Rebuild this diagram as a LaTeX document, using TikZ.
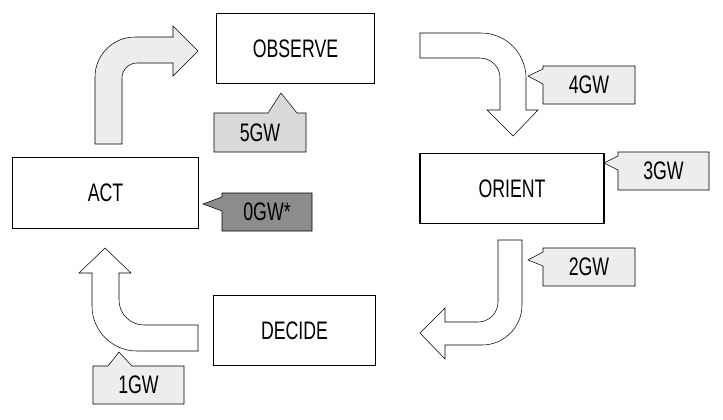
\documentclass[tikz,border=0pt]{standalone}
\usepackage{fontspec}
\setmainfont{Liberation Sans}[FakeStretch=0.7]

\begin{document}
\begin{tikzpicture}[x = 0.75pt, y = -0.75pt,
	big/.style = {font = \fontsize{19}{20}\selectfont},
	stage/.style = {draw, thick, big, minimum width = 119pt, minimum height = 53pt},
	turn arrow/.style = {draw, line join = miter}]

	\useasboundingbox (0, 0) rectangle (723, 419);

	% The four stages

	\node [stage] (observe) at (295.5, 48.5) {OBSERVE};
	\node [stage, minimum width = 138pt] (orient) at (512, 188.5) {ORIENT};
	\node [stage, minimum width = 121pt] (decide) at (294.5, 330.5) {DECIDE};
	\node [stage, minimum width = 140pt] (act) at (105.5, 193) {ACT};

	% Bent arrows

	\draw [turn arrow, fill = black!7] (95, 144) -- (95, 77) arc (180 : 270 : 40) -- (173, 37)
		-- (173, 26) -- (198, 51) -- (173, 76) -- (173, 63) -- (137, 63)
		arc (270 : 180 : 15) -- (122, 144) -- cycle;

	\draw [turn arrow, fill = white] (420, 33) -- (481, 33) arc (270 : 360 : 45) -- (526, 110)
		-- (538, 110) -- (513, 136) -- (487, 110) -- (500, 110) -- (500, 78)
		arc (0 : -90 : 20) -- (420, 58) -- cycle;

	\draw [turn arrow, fill = white] (498, 240) -- (498, 302) arc (0 : 90 : 20) -- (445, 322)
		-- (445, 308) -- (420, 333) -- (445, 359) -- (445, 345) -- (482, 345)
		arc (90 : 0 : 40) -- (522, 240) -- cycle;

	\draw [turn arrow, fill = white] (198, 325) -- (144, 325) arc (90 : 180 : 25) -- (119, 273)
		-- (131, 273) -- (105, 248) -- (79, 273) -- (92, 273) -- (92, 306)
		arc (180 : 90 : 45) -- (198, 351) -- cycle;

	% Callouts

	\draw [fill = black!15] (214, 113) -- (268, 113) -- (281, 93) -- (297, 113) -- (306, 113)
		-- (306, 152) -- (214, 152) -- cycle;
	\node [big] (g5) at (260, 133) {5GW};

	\draw [fill = black!7] (543, 66) -- (635, 66) -- (635, 104) -- (543, 104) -- (543, 84)
		-- (528, 76) -- (543, 69) -- cycle;
	\node [big] (g4) at (589, 85) {4GW};

	\draw [fill = black!7] (618, 152) -- (709, 152) -- (709, 190) -- (618, 190) -- (618, 170)
		-- (604, 163) -- (618, 156) -- cycle;
	\node [big] (g3) at (663.5, 171) {3GW};

	\draw [fill = black!7] (543, 248) -- (635, 248) -- (635, 286) -- (543, 286) -- (543, 266)
		-- (528, 260) -- (543, 252) -- cycle;
	\node [big] (g2) at (589, 267) {2GW};

	\draw [fill = black!45] (222, 193) -- (312, 193) -- (312, 231) -- (222, 231) -- (222, 211)
		-- (203, 204) -- (222, 197) -- cycle;
	\node [big] (g0) at (267, 212) {0GW*};

	\draw [fill = black!7] (93, 366) -- (108, 366) -- (119, 352) -- (132, 366) -- (184, 366)
		-- (184, 404) -- (93, 404) -- cycle;
	\node [big] (g1) at (138.5, 385) {1GW};

\end{tikzpicture}
\end{document}
